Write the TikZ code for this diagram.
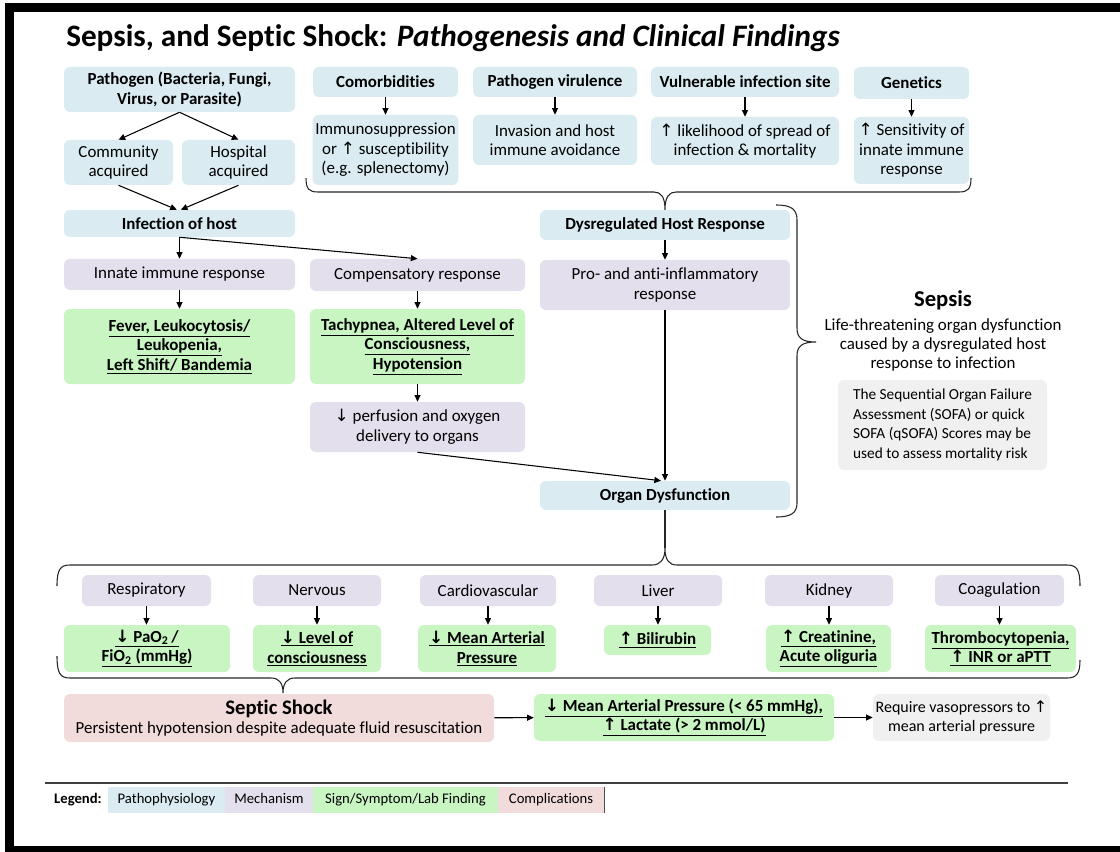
\documentclass[tikz,border=0pt]{standalone}
\usepackage{fontspec}
\setmainfont[Ligatures={NoCommon}]{Carlito}
\newfontfamily\arrowfont{DejaVu Sans}
\usetikzlibrary{arrows.meta}

\definecolor{pathoblue}{RGB}{218,236,242}
\definecolor{mechpurple}{RGB}{228,223,236}
\definecolor{findgreen}{RGB}{200,245,194}
\definecolor{complpink}{RGB}{242,219,219}
\definecolor{notegray}{RGB}{240,240,240}

\newcommand{\arrup}{{\arrowfont ↑}}
\newcommand{\arrdn}{{\arrowfont ↓}}
\newcommand{\uln}[1]{\underline{#1}}

\begin{document}
\begin{tikzpicture}[
  x=0.75pt,
  y=-0.75pt,
  >={Triangle[length=5pt,width=4.5pt]},
  font=\fontsize{12.7}{14.6}\selectfont,
  box/.style={
    rounded corners=4.5pt,
    inner sep=2pt,
    align=center,
    text=black
  },
  wh/.style 2 args={minimum width=#1*0.75pt, minimum height=#2*0.75pt},
  patho/.style={box, fill=pathoblue},
  mech/.style={box, fill=mechpurple},
  finding/.style={box, fill=findgreen, font=\fontsize{12.7}{14.6}\selectfont\bfseries},
  compl/.style={box, fill=complpink},
  note/.style={box, fill=notegray},
  heading/.style={font=\fontsize{12.7}{14.6}\selectfont\bfseries},
  flow/.style={->, line width=0.8pt},
  bracket/.style={draw=black!85, line width=0.8pt},
  legendcell/.style={
    inner sep=0pt,
    minimum height=26*0.75pt,
    text height=1.6ex,
    text depth=0.45ex,
    font=\fontsize{11}{12}\selectfont
  }
]
\useasboundingbox (0,0) rectangle (1120,852);

% frame and title
\draw[line width=6.5pt] (9.5,7.5) rectangle (1140,850);
\node[anchor=base west, inner sep=0pt, font=\fontsize{23.4}{27}\selectfont\bfseries] (title) at (66,47)
  {Sepsis, and Septic Shock: \textit{Pathogenesis and Clinical Findings}};

% ---------------------------------------------------------------------------
% Pathogen and risk factors
% ---------------------------------------------------------------------------
\node[patho, heading, wh={231}{45}] (pathogen) at (179.5,89.5) {Pathogen (Bacteria, Fungi,\\Virus, or Parasite)};
\node[patho, wh={109}{45}] (community) at (118.5,162.5) {Community\\acquired};
\node[patho, wh={113}{45}] (hospital) at (238.5,162.5) {Hospital\\acquired};
\node[patho, heading, wh={231}{27}] (infection) at (179.5,223.5) {Infection of host};

\node[patho, heading, wh={145}{30}] (comorb) at (385.5,82) {Comorbidities};
\node[patho, wh={145}{70}] (immuno) at (385.5,150) {Immunosuppression\\or \arrup\ susceptibility\\(e.g. splenectomy)};
\node[patho, heading, wh={164}{30}] (virulence) at (555,82) {Pathogen virulence};
\node[patho, wh={164}{50}] (invasion) at (555,140) {Invasion and host\\immune avoidance};
\node[patho, heading, wh={188}{30}] (site) at (745,82) {Vulnerable infection site};
\node[patho, wh={188}{48}] (spread) at (745,141) {\arrup\ likelihood of spread of\\infection \& mortality};
\node[patho, heading, wh={115}{32}] (genetics) at (911.5,83) {Genetics};
\node[patho, wh={115}{67}] (sensitivity) at (911.5,150.5) {\arrup\ Sensitivity of\\innate immune\\response};

\draw[flow] (pathogen.south) -- (community.north);
\draw[flow] (pathogen.south) -- (hospital.north);
\draw[flow] (community.south) -- ([xshift=-2pt]infection.north);
\draw[flow] (hospital.south) -- ([xshift=1pt]infection.north);
\draw[flow] (comorb) -- (immuno);
\draw[flow] (virulence) -- (invasion);
\draw[flow] (site) -- (spread);
\draw[flow] (genetics) -- (sensitivity);

% ---------------------------------------------------------------------------
% Host response
% ---------------------------------------------------------------------------
\node[mech, wh={231}{31}] (innate) at (179.5,274.5) {Innate immune response};
\node[mech, wh={215}{32}] (compens) at (417.5,275) {Compensatory response};
\node[finding, wh={231}{75}] (fever) at (179.5,346.5) {\uln{Fever, Leukocytosis/}\\\uln{Leukopenia,}\\\uln{Left Shift/ Bandemia}};
\node[finding, wh={215}{75}] (tachy) at (417.5,346.5) {\uln{Tachypnea, Altered Level of}\\\uln{Consciousness,}\\\uln{Hypotension}};
\node[mech, wh={215}{50}] (perfusion) at (417.5,427) {\arrdn\ perfusion and oxygen\\delivery to organs};

\node[patho, heading, wh={250}{30}] (dysreg) at (665,225) {Dysregulated Host Response};
\node[mech, wh={250}{50}] (inflam) at (665,285) {Pro- and anti-inflammatory\\response};
\node[patho, heading, wh={250}{29}] (organ) at (665,495.5) {Organ Dysfunction};

\draw[flow] (infection.south) -- (innate.north);
\draw[flow] (infection.south) -- (compens.north);
\draw[flow] (innate) -- (fever);
\draw[flow] (compens) -- (tachy);
\draw[flow] (tachy) -- (perfusion);
\draw[flow] (dysreg) -- (inflam);
\draw[flow] (inflam.south) -- (organ.north);
\draw[flow] (perfusion.south) -- ([xshift=-3pt]organ.north);

% risk factors gather into the dysregulated response
\draw[bracket] (306,178) .. controls (306,189) and (309,192) .. (318,192) -- (654,192)
  .. controls (661,192) and (665,197) .. (dysreg.north)
  .. controls (665,197) and (669,192) .. (676,192) -- (959,192)
  .. controls (968,192) and (971,189) .. (971,178);

% ---------------------------------------------------------------------------
% Sepsis definition
% ---------------------------------------------------------------------------
\draw[bracket] (776,205) .. controls (791,205) and (797,209) .. (797,220) -- (797,328)
  .. controls (797,338) and (802,342) .. (816,342)
  .. controls (802,342) and (797,346) .. (797,356) -- (797,503)
  .. controls (797,513) and (791,517) .. (776,517);
\node[font=\fontsize{17}{20}\selectfont\bfseries] (sepsis) at (943,300) {Sepsis};
\node[align=center] (sepdef) at (943,345) {Life-threatening organ dysfunction\\caused by a dysregulated host\\response to infection};
\node[note, align=left, wh={209}{90}, font=\fontsize{11.5}{14.6}\selectfont] (sofa) at (942.5,425)
  {The Sequential Organ Failure\\Assessment (SOFA) or quick\\SOFA (qSOFA) Scores may be\\used to assess mortality risk};

% ---------------------------------------------------------------------------
% Organ systems
% ---------------------------------------------------------------------------
\coordinate (systip) at (665,548);
\draw[bracket] (organ.south) -- (systip);
\draw[bracket] (57,586) .. controls (57,570) and (60,565) .. (70,565) -- (652,565)
  .. controls (660,565) and (665,560) .. (systip)
  .. controls (665,560) and (669,565) .. (677,565) -- (1067,565)
  .. controls (1077,565) and (1080,570) .. (1080,586);

\node[mech, wh={129}{31}] (resp) at (146.5,590.5) {Respiratory};
\node[mech, wh={128}{31}] (nerv) at (317,590.5) {Nervous};
\node[mech, wh={136}{31}] (cardio) at (488,590.5) {Cardiovascular};
\node[mech, wh={128}{31}] (liver) at (658,590.5) {Liver};
\node[mech, wh={128}{31}] (kidney) at (829,590.5) {Kidney};
\node[mech, wh={129}{31}] (coag) at (999.5,590.5) {Coagulation};

\node[finding, wh={166}{47}] (pao) at (147,648.5) {\uln{\arrdn\ PaO\textsubscript{2}\,/}\\\uln{FiO\textsubscript{2} (mmHg)}};
\node[finding, wh={128}{47}] (loc) at (317,648.5) {\uln{\arrdn\ Level of}\\\uln{consciousness}};
\node[finding, wh={138}{47}] (mapdrop) at (487,648.5) {\uln{\arrdn\ Mean Arterial}\\\uln{Pressure}};
\node[finding, wh={107}{30}] (bili) at (657.5,640) {\uln{\arrup\ Bilirubin}};
\node[finding, wh={125}{47}] (creat) at (828.5,648.5) {\uln{\arrup\ Creatinine,}\\\uln{Acute oliguria}};
\node[finding, wh={151}{47}] (thromb) at (1000.5,648.5) {\uln{Thrombocytopenia,}\\\uln{\arrup\ INR or aPTT}};

\draw[flow] (resp) -- (resp |- pao.north);
\draw[flow] (nerv) -- (loc);
\draw[flow] (cardio) -- (cardio |- mapdrop.north);
\draw[flow] (liver) -- (liver |- bili.north);
\draw[flow] (kidney) -- (kidney |- creat.north);
\draw[flow] (coag) -- (coag |- thromb.north);

% ---------------------------------------------------------------------------
% Septic shock
% ---------------------------------------------------------------------------
\coordinate (shocktip) at (283,693);
\draw[bracket] (57,656) .. controls (57,673) and (60,678) .. (70,678) -- (271,678)
  .. controls (279,678) and (283,683) .. (shocktip)
  .. controls (283,683) and (287,678) .. (295,678) -- (1067,678)
  .. controls (1077,678) and (1080,673) .. (1080,660);

\node[compl, wh={430}{48}] (shock) at (279,718)
  {{\fontsize{15.5}{17}\selectfont\bfseries Septic Shock}\\Persistent hypotension despite adequate fluid resuscitation};
\node[finding, wh={300}{47}] (shockfind) at (684,717.5)
  {\uln{\arrdn\ Mean Arterial Pressure (< 65 mmHg),}\\\uln{\arrup\ Lactate (> 2 mmol/L)}};
\node[note, wh={173}{47}, font=\fontsize{12}{14.6}\selectfont] (vaso) at (961.5,717.5) {Require vasopressors to \arrup\\mean arterial pressure};

\draw[flow] (shock) -- (shockfind);
\draw[flow] (shockfind) -- (vaso);

% ---------------------------------------------------------------------------
% Legend
% ---------------------------------------------------------------------------
\draw[line width=1.1pt, black!75] (45,783) -- (1068,783);
\node[font=\fontsize{11}{12}\selectfont\bfseries] (legend) at (78,800) {Legend:};
\node[legendcell, fill=pathoblue, minimum width=117*0.75pt] (lgpatho) at (166.5,800) {Pathophysiology};
\node[legendcell, fill=mechpurple, minimum width=88*0.75pt] (lgmech) at (269,800) {Mechanism};
\node[legendcell, fill=findgreen, minimum width=185*0.75pt] (lgfind) at (405.5,800) {Sign/Symptom/Lab Finding};
\node[legendcell, fill=complpink, minimum width=106*0.75pt] (lgcompl) at (551,800) {Complications};
\draw[black!70, line width=0.6pt] (lgcompl.north east) -- (lgcompl.south east);

\end{tikzpicture}
\end{document}
